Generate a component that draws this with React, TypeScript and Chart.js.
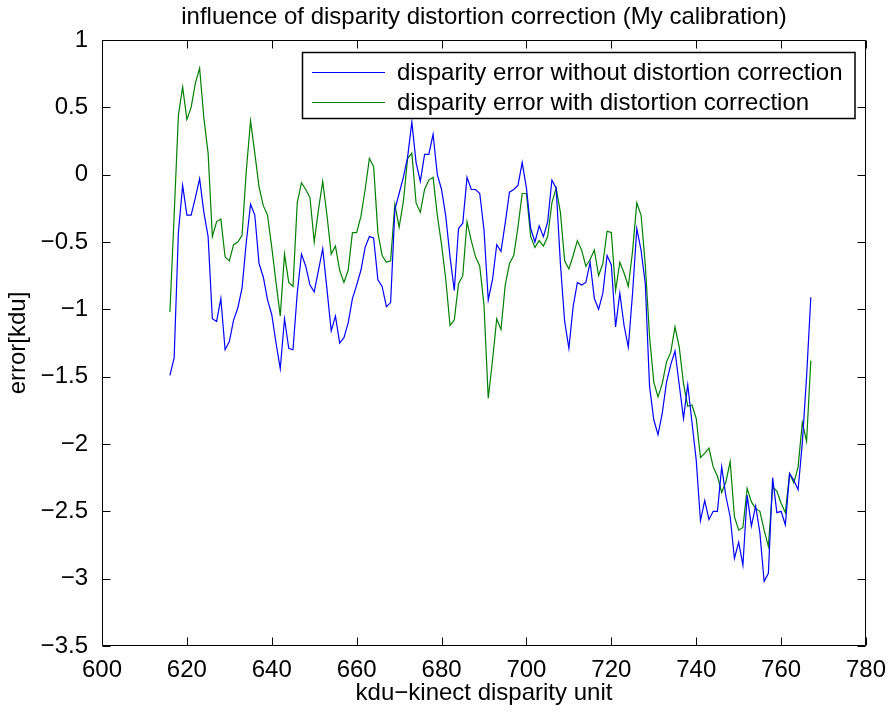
import React, { useEffect, useRef } from "react";
import { Chart, registerables } from "chart.js";

Chart.register(...registerables);

// kdu disparity values (x axis)
const disparity: number[] = [
  616, 617, 618, 619, 620, 621, 622, 623, 624, 625, 626, 627, 628, 629, 630, 631, 632, 633, 634, 635,
  636, 637, 638, 639, 640, 641, 642, 643, 644, 645, 646, 647, 648, 649, 650, 651, 652, 653, 654, 655,
  656, 657, 658, 659, 660, 661, 662, 663, 664, 665, 666, 667, 668, 669, 670, 671, 672, 673, 674, 675,
  676, 677, 678, 679, 680, 681, 682, 683, 684, 685, 686, 687, 688, 689, 690, 691, 692, 693, 694, 695,
  696, 697, 698, 699, 700, 701, 702, 703, 704, 705, 706, 707, 708, 709, 710, 711, 712, 713, 714, 715,
  716, 717, 718, 719, 720, 721, 722, 723, 724, 725, 726, 727, 728, 729, 730, 731, 732, 733, 734, 735,
  736, 737, 738, 739, 740, 741, 742, 743, 744, 745, 746, 747, 748, 749, 750, 751, 752, 753, 754, 755,
  756, 757, 758, 759, 760, 761, 762, 763, 764, 765, 766, 767,
];

// error without distortion correction [kdu]
const errorWithout: number[] = [
  -1.49, -1.36, -0.43, -0.08, -0.30, -0.30, -0.17, -0.03, -0.28, -0.46, -1.07, -1.09, -0.92, -1.30, -1.24, -1.08, -0.99, -0.84, -0.50, -0.22,
  -0.30, -0.66, -0.76, -0.93, -1.04, -1.25, -1.44, -1.07, -1.29, -1.30, -0.88, -0.59, -0.68, -0.82, -0.87, -0.71, -0.55, -0.85, -1.16, -1.05,
  -1.25, -1.21, -1.10, -0.92, -0.82, -0.71, -0.54, -0.46, -0.47, -0.78, -0.83, -0.98, -0.95, -0.26, -0.14, -0.02, 0.13, 0.39, 0.09, -0.05,
  0.15, 0.15, 0.30, 0.00, -0.11, -0.31, -0.61, -0.86, -0.40, -0.36, -0.02, -0.11, -0.11, -0.14, -0.41, -0.93, -0.78, -0.52, -0.57, -0.36,
  -0.13, -0.11, -0.08, 0.09, -0.10, -0.40, -0.50, -0.38, -0.46, -0.35, -0.04, -0.10, -0.66, -1.09, -1.29, -0.98, -0.80, -0.82, -0.80, -0.65,
  -0.92, -1.00, -0.88, -0.60, -0.67, -1.13, -0.88, -1.12, -1.28, -0.88, -0.40, -0.56, -0.81, -1.57, -1.82, -1.93, -1.77, -1.54, -1.41, -1.31,
  -1.56, -1.81, -1.56, -1.84, -2.12, -2.57, -2.42, -2.56, -2.50, -2.50, -2.17, -2.39, -2.54, -2.85, -2.73, -2.90, -2.38, -2.61, -2.46, -2.66,
  -3.02, -2.96, -2.25, -2.51, -2.50, -2.60, -2.22, -2.27, -2.34, -1.99, -1.50, -0.91,
];

// error with distortion correction [kdu]
const errorWith: number[] = [
  -1.02, -0.30, 0.44, 0.65, 0.41, 0.50, 0.68, 0.79, 0.42, 0.16, -0.46, -0.35, -0.33, -0.61, -0.64, -0.52, -0.50, -0.45, 0.03, 0.40,
  0.16, -0.09, -0.23, -0.30, -0.54, -0.80, -1.05, -0.59, -0.80, -0.83, -0.21, -0.06, -0.11, -0.17, -0.50, -0.26, -0.05, -0.30, -0.59, -0.53,
  -0.71, -0.80, -0.71, -0.43, -0.43, -0.31, -0.11, 0.12, 0.06, -0.43, -0.60, -0.65, -0.64, -0.22, -0.39, -0.20, 0.12, 0.16, -0.21, -0.28,
  -0.11, -0.04, -0.02, -0.30, -0.52, -0.78, -1.12, -1.08, -0.81, -0.75, -0.35, -0.49, -0.61, -0.68, -0.97, -1.66, -1.38, -1.07, -1.15, -0.82,
  -0.66, -0.60, -0.39, -0.14, -0.14, -0.46, -0.54, -0.49, -0.53, -0.46, -0.21, -0.10, -0.28, -0.64, -0.70, -0.60, -0.49, -0.56, -0.68, -0.63,
  -0.56, -0.75, -0.66, -0.42, -0.43, -0.86, -0.65, -0.73, -0.83, -0.57, -0.21, -0.30, -0.67, -1.20, -1.54, -1.65, -1.55, -1.39, -1.32, -1.13,
  -1.28, -1.55, -1.72, -1.71, -1.81, -2.10, -2.07, -2.03, -2.17, -2.24, -2.36, -2.28, -2.13, -2.54, -2.64, -2.62, -2.33, -2.43, -2.48, -2.50,
  -2.64, -2.76, -2.32, -2.35, -2.44, -2.51, -2.22, -2.29, -2.17, -1.84, -1.98, -1.38,
];

const seriesLabels: string[] = [
  "disparity error without distortion correction",
  "disparity error with distortion correction",
];
const seriesColors: string[] = ["#0000ff", "#008000"];

const titleText = "influence of disparity distortion correction (My calibration)";
const xTitle = "kdu\u2212kinect disparity unit";
const yTitle = "error[kdu]";

const FONT_FAMILY = "'Liberation Sans', Arial, Helvetica, sans-serif";
const FONT_SIZE = 24;

const fmtTick = (v: number) => {
  const r = Math.round(v * 100) / 100;
  return (r < 0 ? "\u2212" : "") + String(Math.abs(r));
};

// Title centred over the axes box
const axesTitlePlugin = {
  id: "axesTitle",
  afterDraw(chart: any) {
    const { ctx, chartArea: a } = chart;
    ctx.save();
    ctx.font = `${FONT_SIZE}px ${FONT_FAMILY}`;
    ctx.fillStyle = "#000";
    ctx.textAlign = "center";
    ctx.textBaseline = "middle";
    ctx.fillText(titleText, (a.left + a.right) / 2, 17.5);
    ctx.restore();
  },
};

// Box around the axes with inward-pointing tick marks on all four sides
const framePlugin = {
  id: "frame",
  afterDatasetsDraw(chart: any) {
    const { ctx, chartArea: a, scales } = chart;
    const L = Math.round(a.left) + 0.5;
    const R = Math.round(a.right) - 0.5;
    const T = Math.round(a.top) + 0.5;
    const B = Math.round(a.bottom) - 0.5;
    const len = 8;
    ctx.save();
    ctx.strokeStyle = "#000";
    ctx.lineWidth = 1;
    ctx.beginPath();
    ctx.rect(L, T, R - L, B - T);
    for (const t of scales.x.ticks) {
      const px = Math.round(scales.x.getPixelForValue(t.value)) + 0.5;
      ctx.moveTo(px, B);
      ctx.lineTo(px, B - len);
      ctx.moveTo(px, T);
      ctx.lineTo(px, T + len);
    }
    for (const t of scales.y.ticks) {
      const py = Math.round(scales.y.getPixelForValue(t.value)) + 0.5;
      ctx.moveTo(L, py);
      ctx.lineTo(L + len, py);
      ctx.moveTo(R, py);
      ctx.lineTo(R - len, py);
    }
    ctx.stroke();
    ctx.restore();
  },
};

// Legend box in the upper-right corner of the axes
const legendPlugin = {
  id: "cornerLegend",
  afterDraw(chart: any) {
    const { ctx, chartArea: a } = chart;
    const datasets = chart.data.datasets;
    ctx.save();
    ctx.font = `${FONT_SIZE}px ${FONT_FAMILY}`;
    let textW = 0;
    for (const ds of datasets) textW = Math.max(textW, ctx.measureText(ds.label).width);
    const padL = 10;
    const sample = 73;
    const gap = 12;
    const padR = 12;
    const rowH = 30;
    const padTop = 5;
    const padBottom = 1;
    const w = padL + sample + gap + textW + padR;
    const h = padTop + padBottom + rowH * datasets.length;
    const right = Math.round(a.right - 11);
    const top = Math.round(a.top + 12);
    const left = Math.round(right - w);
    ctx.fillStyle = "#fff";
    ctx.fillRect(left, top, w, h);
    ctx.strokeStyle = "#000";
    ctx.lineWidth = 1.5;
    ctx.strokeRect(left + 0.5, top + 0.5, w, h);
    ctx.textBaseline = "middle";
    ctx.textAlign = "left";
    datasets.forEach((ds: any, i: number) => {
      const cy = top + padTop + rowH * i + rowH / 2;
      ctx.strokeStyle = ds.borderColor;
      ctx.lineWidth = 1.2;
      ctx.beginPath();
      ctx.moveTo(left + padL, Math.round(cy) + 0.5);
      ctx.lineTo(left + padL + sample, Math.round(cy) + 0.5);
      ctx.stroke();
      ctx.fillStyle = "#000";
      ctx.fillText(ds.label, left + padL + sample + gap, cy + 1);
    });
    ctx.restore();
  },
};

export default function App() {
  const canvasRef = useRef<HTMLCanvasElement | null>(null);

  useEffect(() => {
    const canvas = canvasRef.current;
    if (!canvas) return;
    const font = { family: FONT_FAMILY, size: FONT_SIZE, weight: "normal" as const };
    const series = [errorWithout, errorWith];
    const chart = new Chart(canvas, {
      type: "line",
      data: {
        datasets: series.map((vals, s) => ({
          label: seriesLabels[s],
          data: disparity.map((x, i) => ({ x, y: vals[i] })),
          borderColor: seriesColors[s],
          backgroundColor: seriesColors[s],
          borderWidth: 1.2,
          pointRadius: 0,
          tension: 0,
          fill: false,
        })),
      },
      options: {
        responsive: false,
        animation: false,
        devicePixelRatio: 1,
        layout: { padding: { left: 0, right: 26, top: 40, bottom: 0 } },
        plugins: {
          legend: { display: false },
          tooltip: { enabled: false },
          title: { display: false },
        },
        scales: {
          x: {
            type: "linear",
            min: 600,
            max: 780,
            grid: { display: false },
            border: { display: false },
            ticks: { stepSize: 20, color: "#000", font, padding: 2, maxRotation: 0 },
            title: { display: true, text: xTitle, color: "#000", font, padding: { top: 0, bottom: 6 } },
            afterFit: (s: any) => {
              s.height = 68;
            },
          },
          y: {
            type: "linear",
            min: -3.5,
            max: 1,
            grid: { display: false },
            border: { display: false },
            ticks: { stepSize: 0.5, color: "#000", font, padding: 6, callback: (v: any) => fmtTick(Number(v)) },
            title: { display: true, text: yTitle, color: "#000", font, padding: { top: 3.6, bottom: 0 } },
            afterFit: (s: any) => {
              s.width = 102;
            },
          },
        },
      },
      plugins: [framePlugin, legendPlugin, axesTitlePlugin],
    });
    return () => chart.destroy();
  }, []);

  return (
    <div style={{ position: "absolute", left: 0, top: 0, width: 892, height: 714, background: "#fff" }}>
      <canvas ref={canvasRef} width={892} height={714} />
    </div>
  );
}
